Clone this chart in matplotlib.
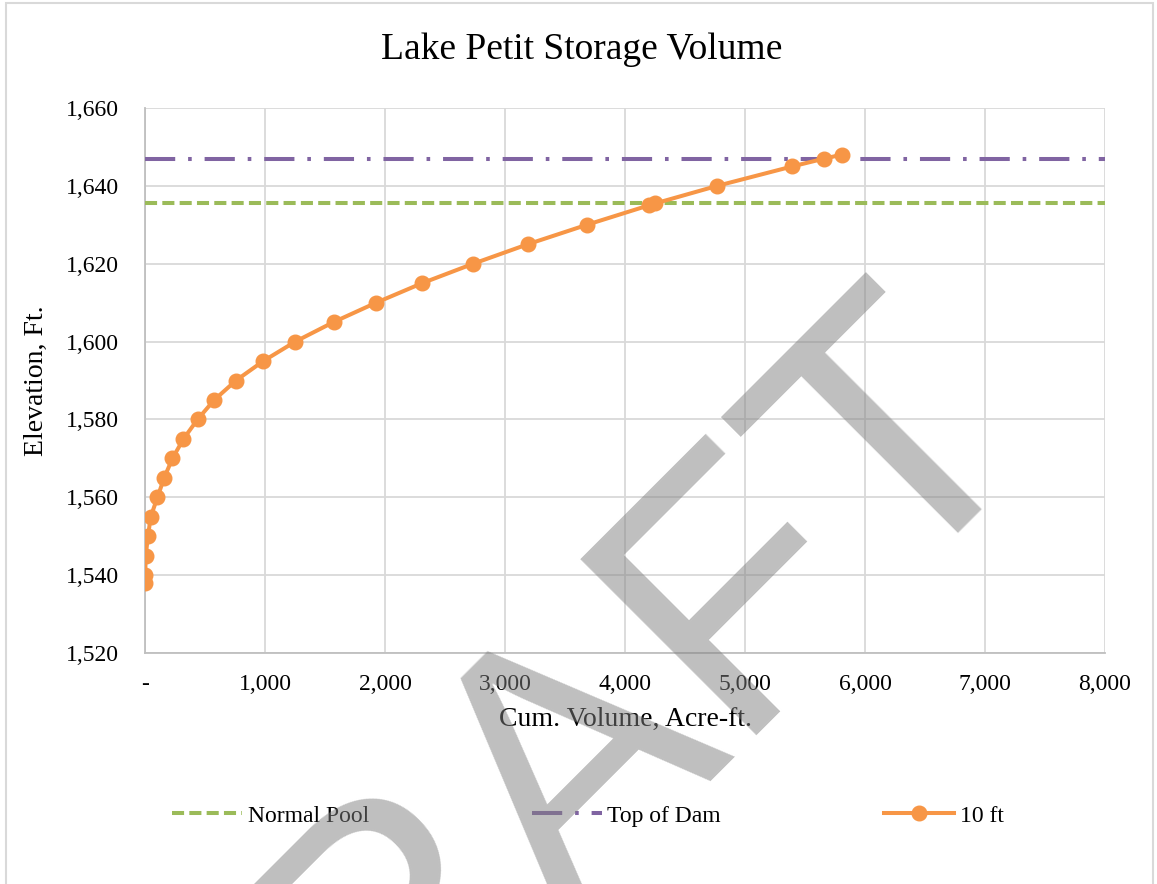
import numpy as np
import matplotlib
matplotlib.use("Agg")
import matplotlib.pyplot as plt
from matplotlib.patches import Rectangle
from matplotlib.ticker import FuncFormatter

# storage curve
elevation = [1538, 1540, 1545, 1550, 1555, 1560, 1565, 1570, 1575, 1580, 1585,
             1590, 1595, 1600, 1605, 1610, 1615, 1620, 1625, 1630, 1635, 1635.5,
             1640, 1645, 1647, 1648]
cum_volume = [0, 2, 6, 25, 48, 104, 160, 229, 321, 438, 577,
              758, 986, 1253, 1571, 1927, 2309, 2735, 3189, 3682, 4199, 4252,
              4768, 5394, 5659, 5804]
normal_pool = 1635.5
top_of_dam = 1647

x_ticks = [0, 1000, 2000, 3000, 4000, 5000, 6000, 7000, 8000]
y_ticks = [1520, 1540, 1560, 1580, 1600, 1620, 1640, 1660]

plt.rcParams['font.family'] = ['Liberation Serif', 'DejaVu Serif']

fig = plt.figure(figsize=(11.57, 8.84), dpi=100)
ax = fig.add_axes([0.1253, 0.2613, 0.8298, 0.6165])
ax.set_facecolor('none')

ax.axhline(normal_pool, color='#9BBB59', lw=2.9, linestyle=(0, (3.0, 1.3)),
           label='Normal Pool', zorder=3)
ax.axhline(top_of_dam, color='#8064A2', lw=2.9, linestyle=(0, (7.5, 3.2, 0.9, 3.2)),
           label='Top of Dam', zorder=3)
ax.plot(cum_volume, elevation, color='#F79646', lw=2.9, marker='o', markersize=10.5,
        label='10 ft', zorder=4)

ax.set_xlim(0, 8000)
ax.set_ylim(1520, 1660)
ax.set_xticks(x_ticks)
ax.set_yticks(y_ticks)
ax.xaxis.set_major_formatter(FuncFormatter(lambda v, p: '-' if v == 0 else f'{v:,.0f}'))
ax.yaxis.set_major_formatter(FuncFormatter(lambda v, p: f'{v:,.0f}'))
ax.tick_params(axis='both', length=0, labelsize=17)
ax.tick_params(axis='y', pad=19)
ax.tick_params(axis='x', pad=15)
ax.grid(True, color='#D9D9D9', lw=1.3)
ax.set_axisbelow(True)
for side in ['top', 'right']:
    ax.spines[side].set_visible(False)
for side in ['left', 'bottom']:
    ax.spines[side].set_color('#BFBFBF')
    ax.spines[side].set_linewidth(1.3)

ax.set_xlabel('Cum. Volume, Acre-ft.', fontsize=20, labelpad=9)
ax.set_ylabel('Elevation, Ft.', fontsize=20, labelpad=12)
fig.text(0.503, 0.944, 'Lake Petit Storage Volume', fontsize=27, ha='center', va='center')

fig.legend(loc='center', bbox_to_anchor=(0.508, 0.077), ncol=3, frameon=False,
           fontsize=17, handlelength=2.95, handletextpad=0.25, columnspacing=6.9,
           borderpad=0)

# chart-area border
fig.patches.append(Rectangle((0.005, -0.01), 0.9915, 1.0066, transform=fig.transFigure,
                             fill=False, edgecolor='#D9D9D9', lw=1.5))

# watermark
fig.text(0.8994, 0.5233, 'DRAFT', rotation=45, rotation_mode='anchor', ha='right',
         va='baseline', fontsize=261, family='Liberation Sans', color='#808080',
         alpha=0.5, zorder=10)

fig.savefig('out.png', dpi=100)
